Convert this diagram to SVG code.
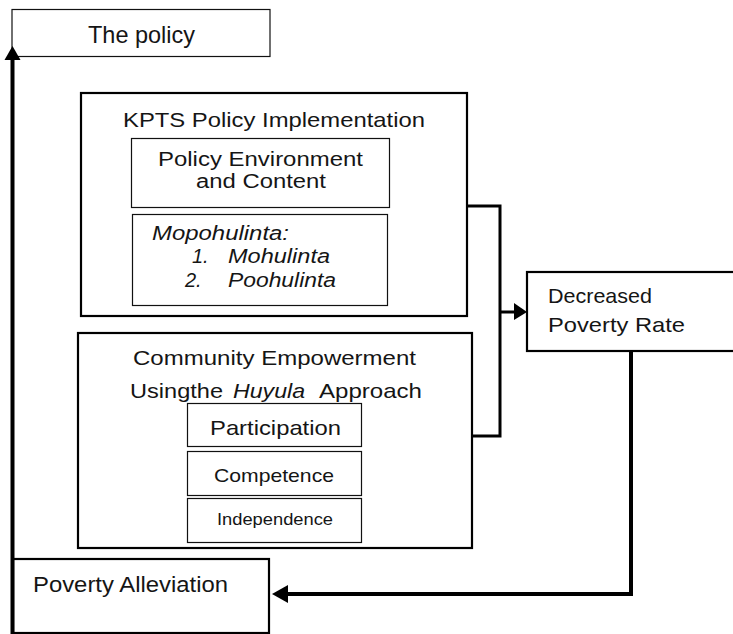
<svg xmlns="http://www.w3.org/2000/svg" width="733" height="634" viewBox="0 0 733 634">
<style>
  text { font-family: "Liberation Sans", Arial, sans-serif; fill: #151515; }
  .it { font-style: italic; }
  .thin { fill: #fff; stroke: #111; stroke-width: 1.2; }
  .thick { fill: #fff; stroke: #000; stroke-width: 2.2; }
  .conn { fill: none; stroke: #000; stroke-linejoin: miter; }
  .head { fill: #000; stroke: none; }
</style>
<rect width="733" height="634" fill="#fff"/>

<g id="the-policy">
  <rect class="thin" x="12" y="9.5" width="258" height="47"/>
  <text x="88" y="43" font-size="24" textLength="107" lengthAdjust="spacingAndGlyphs">The policy</text>
</g>

<g id="kpts">
  <rect class="thick" x="81" y="93" width="386" height="223"/>
  <text x="123" y="127" font-size="21" textLength="302" lengthAdjust="spacingAndGlyphs">KPTS Policy Implementation</text>
</g>

<g id="policy-env">
  <rect class="thin" x="131.5" y="138.5" width="258" height="69"/>
  <text x="158" y="166" font-size="20" textLength="205" lengthAdjust="spacingAndGlyphs">Policy Environment</text>
  <text x="196" y="188" font-size="20" textLength="130" lengthAdjust="spacingAndGlyphs">and Content</text>
</g>

<g id="mopohulinta">
  <rect class="thin" x="132.5" y="214.5" width="255" height="91"/>
  <text class="it" x="152" y="240" font-size="20" textLength="137" lengthAdjust="spacingAndGlyphs">Mopohulinta:</text>
  <text class="it" x="192" y="263" font-size="20">1.</text>
  <text class="it" x="228" y="263" font-size="20" textLength="102" lengthAdjust="spacingAndGlyphs">Mohulinta</text>
  <text class="it" x="185" y="287" font-size="20">2.</text>
  <text class="it" x="228" y="287" font-size="20" textLength="108" lengthAdjust="spacingAndGlyphs">Poohulinta</text>
</g>

<g id="community">
  <rect class="thick" x="78" y="333" width="394" height="215"/>
  <text x="133" y="365" font-size="21" textLength="283" lengthAdjust="spacingAndGlyphs">Community Empowerment</text>
  <text x="130" y="398" font-size="21" textLength="93" lengthAdjust="spacingAndGlyphs">Usingthe</text>
  <text class="it" x="233" y="398" font-size="21" textLength="72" lengthAdjust="spacingAndGlyphs">Huyula</text>
  <text x="319" y="398" font-size="21" textLength="103" lengthAdjust="spacingAndGlyphs">Approach</text>
</g>

<g id="participation">
  <rect class="thin" x="187.5" y="403.5" width="174" height="43"/>
  <text x="210" y="435" font-size="21" textLength="131" lengthAdjust="spacingAndGlyphs">Participation</text>
</g>

<g id="competence">
  <rect class="thin" x="187.5" y="451.5" width="174" height="44"/>
  <text x="214" y="482" font-size="19" textLength="120" lengthAdjust="spacingAndGlyphs">Competence</text>
</g>

<g id="independence">
  <rect class="thin" x="187.5" y="498.5" width="174" height="44"/>
  <text x="217" y="525" font-size="16" textLength="116" lengthAdjust="spacingAndGlyphs">Independence</text>
</g>

<g id="decreased">
  <rect class="thick" x="527" y="272" width="210" height="79"/>
  <text x="548" y="303" font-size="21" textLength="104" lengthAdjust="spacingAndGlyphs">Decreased</text>
  <text x="548" y="332" font-size="21" textLength="137" lengthAdjust="spacingAndGlyphs">Poverty Rate</text>
</g>

<g id="poverty-alleviation">
  <rect class="thick" x="13" y="559" width="256" height="74"/>
  <text x="33" y="592" font-size="22" textLength="195" lengthAdjust="spacingAndGlyphs">Poverty Alleviation</text>
</g>

<g id="connectors">
  <path class="conn" stroke-width="3" d="M467,206 H500 V436 H472"/>
  <path class="conn" stroke-width="3" d="M500,312 H516"/>
  <polygon class="head" points="514,303 527,312 514,320"/>
  <path class="conn" stroke-width="4" d="M631,351 V594 H286"/>
  <polygon class="head" points="272,594 288,585 288,603"/>
  <path class="conn" stroke-width="4" d="M12.5,634 V58"/>
  <polygon class="head" points="4.5,60 20.5,60 12.5,46"/>
</g>
</svg>
